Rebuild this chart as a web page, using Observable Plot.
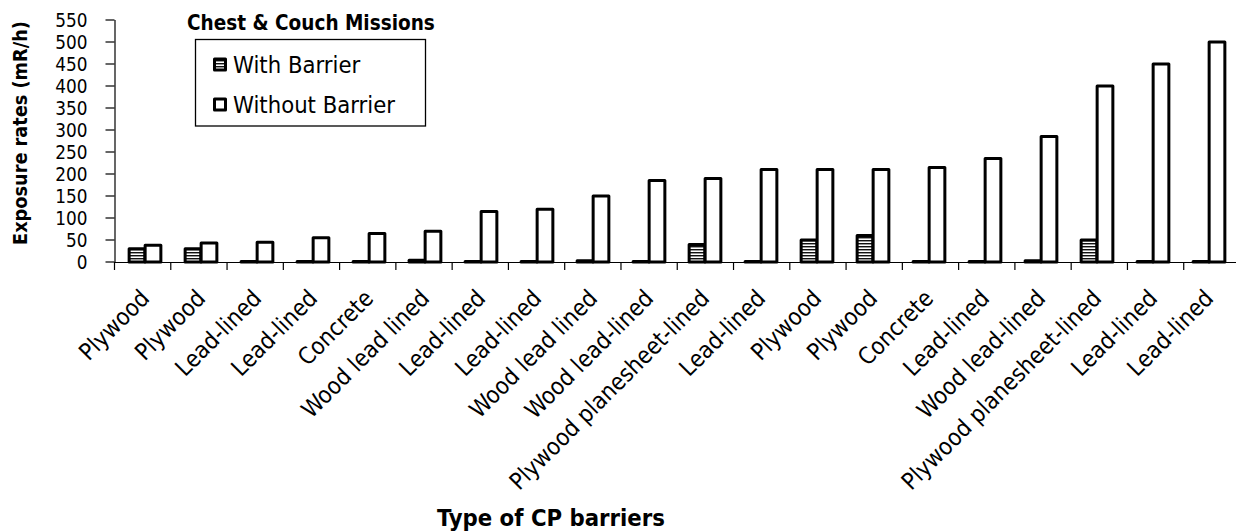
<!DOCTYPE html>
<html>
<head>
<meta charset="utf-8">
<script src="https://cdn.jsdelivr.net/npm/d3@7"></script>
<script src="https://cdn.jsdelivr.net/npm/@observablehq/plot@0.6"></script>
<style>
html, body { margin: 0; padding: 0; background: #fff; }
#chart { position: relative; width: 1236px; height: 532px; overflow: hidden; }
</style>
</head>
<body>
<div id="chart"></div>
<script>
// ---- data ----
const categories = ["Plywood", "Plywood", "Lead-lined", "Lead-lined", "Concrete", "Wood lead lined",
  "Lead-lined", "Lead-lined", "Wood lead lined", "Wood lead-lined", "Plywood planesheet-lined",
  "Lead-lined", "Plywood", "Plywood", "Concrete", "Lead-lined", "Wood lead-lined",
  "Plywood planesheet-lined", "Lead-lined", "Lead-lined"];
const withBarrier = [30, 30, 1, 1, 1, 4, 1, 1, 3, 1, 40, 1, 50, 60, 1, 1, 3, 50, 1, 1];
const withoutBarrier = [38, 43, 45, 55, 65, 70, 115, 120, 150, 185, 190, 210, 210, 210, 215, 235, 285, 400, 450, 500];
const yTicks = [0, 50, 100, 150, 200, 250, 300, 350, 400, 450, 500, 550];
const seriesNames = ["With Barrier", "Without Barrier"];
const legendTitle = "Chest & Couch Missions";
const xTitle = "Type of CP barriers";
const yTitle = "Exposure rates (mR/h)";

// ---- fonts: fit sizes to the reference's text widths ----
const FONT = "'DejaVu Sans Condensed', 'DejaVu Sans', sans-serif";
const ctx = document.createElement("canvas").getContext("2d");
function fitSize(text, target, weight = "normal") {
  ctx.font = `${weight} 100px ${FONT}`;
  return 100 * target / ctx.measureText(text).width;
}
const yTickSize = Math.min(fitSize("550", 38), 18.8);
const xLabelSize = fitSize("Plywood planesheet-lined", 271);
const legendSize = fitSize("Without Barrier", 162);
const legendTitleSize = fitSize(legendTitle, 248, "bold");
const xTitleSize = fitSize(xTitle, 228, "bold");
const yTitleSize = fitSize(yTitle, 224, "bold");

// ---- layout ----
const W = 1236, H = 532, ML = 114.5, MR = -4, MT = 20, MB = 270;
const n = categories.length;
const step = (W - ML - MR) / n;
const barW = 16;
const idx = d3.range(n);
const data = idx.map(i => ({i, cat: categories[i], with: withBarrier[i], without: withoutBarrier[i]}));

const plot = Plot.plot({
  width: W, height: H,
  marginLeft: ML, marginRight: MR, marginTop: MT, marginBottom: MB,
  style: {fontFamily: FONT, background: "white", color: "black", overflow: "visible"},
  x: {type: "band", domain: idx, padding: 0, axis: null},
  y: {domain: [0, 550], axis: null},
  marks: [
    Plot.axisY({ticks: yTicks, tickSize: 0, tickPadding: 27.5, fontSize: yTickSize, label: null}),
    Plot.axisX({ticks: idx, tickSize: 0, tickPadding: 32, tickRotate: -45, tickFormat: i => categories[i],
      fontSize: xLabelSize, label: null}),
    Plot.frame({anchor: "left", stroke: "black", strokeWidth: 1.2}),
    Plot.ruleY([0], {stroke: "black", strokeWidth: 1.2}),
    Plot.barY(data, {x: "i", y: "with", fill: "url(#hatch)", stroke: "black", strokeWidth: 3,
      strokeLinejoin: "round", insetLeft: step / 2 - barW, insetRight: step / 2}),
    Plot.barY(data, {x: "i", y: "without", fill: "white", stroke: "black", strokeWidth: 3,
      strokeLinejoin: "round", insetLeft: step / 2, insetRight: step / 2 - barW})
  ]
});

const svg = d3.select(plot);
const defs = svg.insert("defs", ":first-child");
const pat = defs.append("pattern").attr("id", "hatch").attr("patternUnits", "userSpaceOnUse")
  .attr("width", 6).attr("height", 3);
pat.append("rect").attr("width", 6).attr("height", 3).attr("fill", "white");
pat.append("rect").attr("y", 0).attr("width", 6).attr("height", 1).attr("fill", "#111");
pat.append("rect").attr("y", 1).attr("width", 6).attr("height", 1).attr("fill", "#9a9a9a");

// tick marks from the plot's own scales (y ticks outward left; x ticks at category boundaries)
const xs = plot.scale("x"), ys = plot.scale("y");
const [r0, r1] = xs.range;
const st = (r1 - r0) / n;
const tg = svg.append("g").attr("stroke", "black").attr("stroke-width", 1.2);
yTicks.forEach(v => {
  const y = ys.apply(v);
  tg.append("line").attr("x1", r0 - 9).attr("x2", r0).attr("y1", y).attr("y2", y);
});
const y0 = ys.apply(0);
idx.forEach(i => {
  const x = r0 + i * st;
  tg.append("line").attr("x1", x).attr("x2", x).attr("y1", y0).attr("y2", y0 + 8);
});

function addText(parent, str, x, y, size, weight) {
  return parent.append("text").text(str).attr("x", x).attr("y", y)
    .attr("text-anchor", "start").attr("font-size", size).attr("font-weight", weight)
    .attr("font-family", FONT).attr("fill", "black");
}

// titles
addText(svg, xTitle, 437, 517.5 + 0.36 * xTitleSize, xTitleSize, "bold");
svg.append("text").text(yTitle)
  .attr("transform", `translate(${20 + 0.36 * yTitleSize},133) rotate(-90)`)
  .attr("text-anchor", "middle").attr("font-size", yTitleSize).attr("font-weight", "bold")
  .attr("font-family", FONT).attr("fill", "black");

// legend
const lg = svg.append("g");
addText(lg, legendTitle, 187, 22.5 + 0.36 * legendTitleSize, legendTitleSize, "bold");
lg.append("rect").attr("x", 195.5).attr("y", 39.5).attr("width", 230).attr("height", 86.5)
  .attr("fill", "white").attr("stroke", "black").attr("stroke-width", 1.3);
const rows = [{y: 64.5, fill: "url(#hatch)"}, {y: 104.5, fill: "white"}];
rows.forEach((r, k) => {
  lg.append("rect").attr("x", 214.5).attr("y", r.y - 5.5).attr("width", 11).attr("height", 11)
    .attr("fill", r.fill).attr("stroke", "black").attr("stroke-width", 3).attr("stroke-linejoin", "round");
  addText(lg, seriesNames[k], 233, r.y + 0.36 * legendSize, legendSize, "normal");
});

document.getElementById("chart").appendChild(plot);
</script>
</body>
</html>
